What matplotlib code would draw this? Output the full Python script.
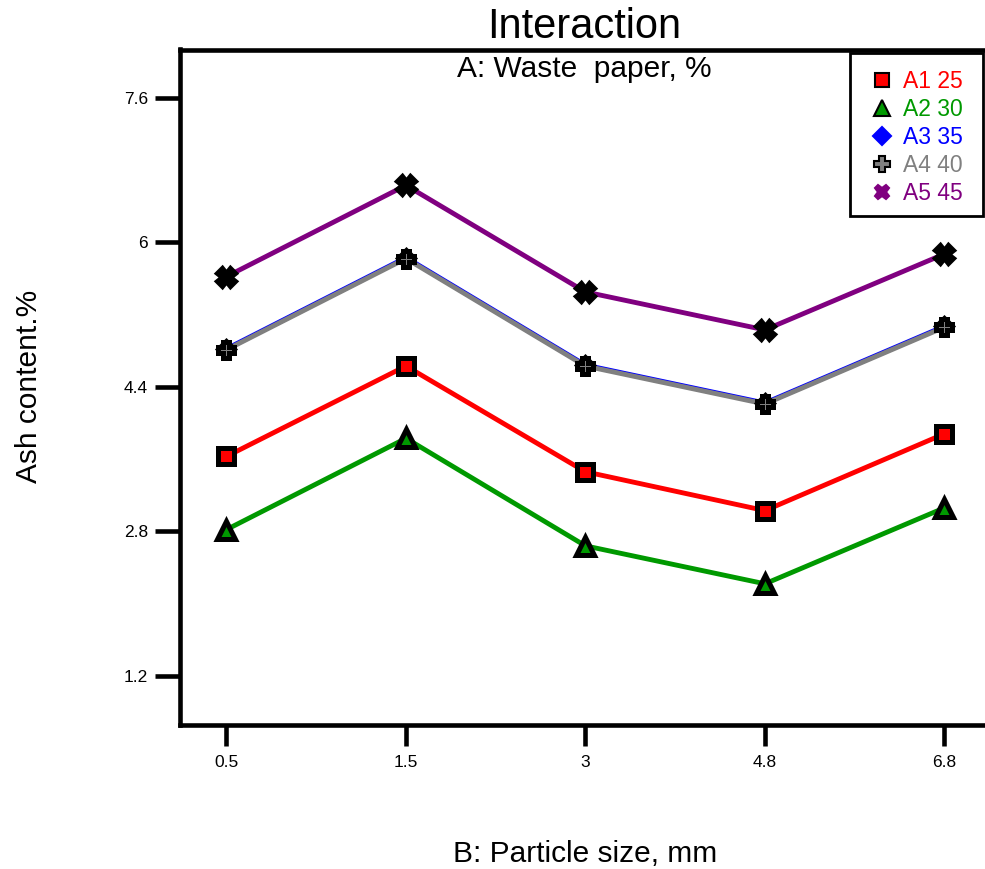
import matplotlib
matplotlib.use("Agg")
import matplotlib.pyplot as plt
from matplotlib.lines import Line2D
from matplotlib.patches import Rectangle

plt.rcParams['font.family'] = ['Liberation Sans', 'DejaVu Sans']

categories = ["0.5", "1.5", "3", "4.8", "6.8"]
A1 = [3.63, 4.63, 3.46, 3.03, 3.88]
A2 = [2.82, 3.83, 2.64, 2.22, 3.06]
A3 = [4.82, 5.83, 4.64, 4.22, 5.07]
A4 = [4.81, 5.82, 4.63, 4.21, 5.06]
A5 = [5.62, 6.63, 5.45, 5.03, 5.87]
series_labels = ["A1 25", "A2 30", "A3 35", "A4 40", "A5 45"]
colors = ["#ff0000", "#009900", "#0000ff", "#808080", "#800080"]
markers = ["s", "^", "D", "P", "X"]
yticks = [1.2, 2.8, 4.4, 6.0, 7.6]
ytick_labels = ["1.2", "2.8", "4.4", "6", "7.6"]

W, H = 985, 869
fig = plt.figure(figsize=(W/100, H/100), dpi=100)
left, right, top, bottom = 180, 1000, 49.5, 724.5
ax = fig.add_axes([left/W, 1-bottom/H, (right-left)/W, (bottom-top)/H])

x = list(range(len(categories)))
for vals, c in zip([A1, A2, A3, A4, A5], colors):
    ax.plot(x, vals, color=c, lw=3.5, zorder=2, solid_capstyle='butt')
msz = {"s": 11.5, "^": 13, "D": 8.5, "P": 12, "X": 12.5}
for vals, c, m in zip([A1, A2, A3, A4, A5], colors, markers):
    ax.plot(x, vals, ls='none', marker=m, ms=msz[m],
            mfc=c if m != 'X' else 'black', mec='black', mew=3.6, zorder=3)

ax.set_xlim(-0.259, 4.31)
ax.set_ylim(0.663, 8.133)
ax.set_xticks(x)
ax.set_xticklabels(categories)
ax.set_yticks(yticks)
ax.set_yticklabels(ytick_labels)
for s in ['left', 'bottom', 'top', 'right']:
    ax.spines[s].set_linewidth(3.3)
ax.tick_params(axis='y', length=18, width=3.3, direction='out', labelsize=12.5, pad=5, colors='black')
ax.tick_params(axis='x', length=15, width=3.3, direction='out', labelsize=12.5, pad=7, colors='black')

fig.text(584/W, 1-38/H, "Interaction", ha='center', va='baseline', fontsize=30)
fig.text(584/W, 1-77/H, "A: Waste  paper, %", ha='center', va='baseline', fontsize=21.5)
fig.text(585/W, 1-862/H, "B: Particle size, mm", ha='center', va='baseline', fontsize=21.5)
fig.text(37/W, 1-386/H, "Ash content.%", ha='center', va='baseline', fontsize=21.5,
         rotation=90, rotation_mode='anchor')

# legend box drawn in figure pixels
fig.patches.append(Rectangle((850/W, 1-216/H), (983-850)/W, (216-53)/H,
                             transform=fig.transFigure, fill=True, facecolor='white',
                             edgecolor='black', lw=2, zorder=5))
leg_ms = {"s": 10.5, "^": 11, "D": 9, "P": 11, "X": 10.5}
leg_mec = {"s": 'black', "^": 'black', "D": '#0000ff', "P": 'black', "X": '#800080'}
for i, (c, m, lab) in enumerate(zip(colors, markers, series_labels)):
    yrow = 80 + 28 * i
    fig.add_artist(Line2D([882/W], [1-yrow/H], transform=fig.transFigure, ls='none',
                          marker=m, ms=leg_ms[m], mfc=c, mec=leg_mec[m], mew=1.5, zorder=6))
    fig.text(903/W, 1-(yrow+8)/H, lab, color=c, fontsize=16.5, ha='left', va='baseline', zorder=6)

fig.savefig("out.png", dpi=100)
